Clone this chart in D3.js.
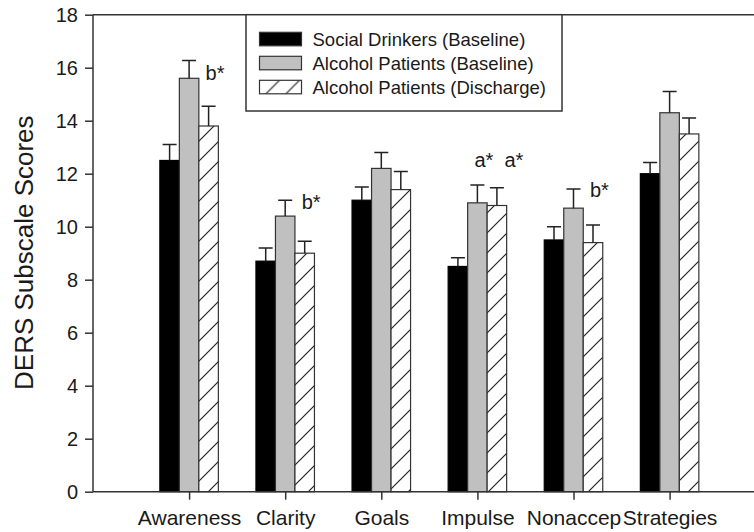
<!DOCTYPE html>
<html>
<head>
<meta charset="utf-8">
<script src="https://cdn.jsdelivr.net/npm/d3@7"></script>
<style>
    body { margin: 0; background: #fff; }
    text { font-family: "Liberation Sans", Arial, Helvetica, sans-serif; fill: #1a1a1a; }
</style>
</head>
<body>
<svg id="chart" width="754" height="532"></svg>
<script>
// Chart data
const categories = ["Awareness", "Clarity", "Goals", "Impulse", "Nonaccep", "Strategies"]
const seriesNames = ["Social Drinkers (Baseline)", "Alcohol Patients (Baseline)", "Alcohol Patients (Discharge)"]
const socialBaseline = [12.5, 8.7, 11.0, 8.5, 9.5, 12.0]
const socialBaselineErr = [0.6, 0.5, 0.5, 0.33, 0.5, 0.42]
const patientsBaseline = [15.6, 10.4, 12.2, 10.9, 10.7, 14.3]
const patientsBaselineErr = [0.67, 0.6, 0.6, 0.67, 0.72, 0.8]
const patientsDischarge = [13.8, 9.0, 11.4, 10.8, 9.4, 13.5]
const patientsDischargeErr = [0.75, 0.45, 0.68, 0.67, 0.66, 0.6]
const yTicks = [0, 2, 4, 6, 8, 10, 12, 14, 16, 18]
// significance marks: category, series index, text, height (score units)
const annotations = [
    { cat: "Awareness", series: 2, text: "b*", at: 15.55 },
    { cat: "Clarity", series: 2, text: "b*", at: 10.67 },
    { cat: "Impulse", series: 1, text: "a*\u00a0\u00a0a*", at: 12.25 },
    { cat: "Nonaccep", series: 2, text: "b*", at: 11.13 },
]

const seriesValues = [socialBaseline, patientsBaseline, patientsDischarge]
const seriesErrors = [socialBaselineErr, patientsBaselineErr, patientsDischargeErr]
const seriesFills = ["#000", "#c0c0c0", "url(#hatch)"]

const svg = d3.select("#chart")

// Hatch pattern for the discharge bars
const defs = svg.append("defs")
const hatch = defs.append("pattern")
    .attr("id", "hatch")
    .attr("patternUnits", "userSpaceOnUse")
    .attr("width", 20)
    .attr("height", 20)
hatch.append("rect").attr("width", 20).attr("height", 20).attr("fill", "#fff")
hatch.append("path")
    .attr("d", "M0,20 L20,0 M-10,10 L10,-10 M10,30 L30,10")
    .attr("stroke", "#222")
    .attr("stroke-width", 1.2)

// Scales
const x = d3.scaleLinear().domain([0, 7]).range([93, 765.7])
const y = d3.scaleLinear().domain([0, 18]).range([491.7, 14.7])
const sub = d3.scaleBand().domain([0, 1, 2]).range([-29.25, 29.25])
const cx = c => x(categories.indexOf(c) + 1)

// Bars
const bars = []
seriesValues.forEach((vals, s) => vals.forEach((v, i) => bars.push({ s, i, v, e: seriesErrors[s][i] })))

const barG = svg.append("g").attr("id", "bars")
barG.selectAll("rect")
    .data(bars)
    .enter()
    .append("rect")
    .attr("x", d => x(d.i + 1) + sub(d.s))
    .attr("y", d => y(d.v))
    .attr("width", sub.bandwidth())
    .attr("height", d => y(0) - y(d.v))
    .attr("fill", d => seriesFills[d.s])
    .attr("stroke", d => d.s == 0 ? "#000" : "#333")
    .attr("stroke-width", 1.2)

// Error bars (upper only)
const errG = svg.append("g").attr("id", "errors")
    .attr("stroke", "#222")
    .attr("stroke-width", 1.5)
errG.selectAll("path")
    .data(bars)
    .enter()
    .append("path")
    .attr("fill", "none")
    .attr("d", d => {
        const mx = x(d.i + 1) + sub(d.s) + sub.bandwidth() / 2
        const top = y(d.v + d.e)
        return `M${mx},${y(d.v)} V${top} M${mx - 7},${top} H${mx + 7}`
    })

// Significance labels
svg.append("g").selectAll("text")
    .data(annotations)
    .enter()
    .append("text")
    .attr("x", d => cx(d.cat) + sub(d.series) + sub.bandwidth() / 2 - 3)
    .attr("y", d => y(d.at))
    .attr("font-size", 20)
    .text(d => d.text)

// Axes
const yAxis = svg.append("g")
    .attr("transform", `translate(${x(0)},0)`)
    .call(d3.axisLeft(y).tickValues(yTicks).tickSize(8).tickPadding(7))
yAxis.select(".domain").attr("d", `M0,${y(18)} V${y(0)}`)

const xAxis = svg.append("g")
    .attr("transform", `translate(0,${y(0)})`)
    .call(d3.axisBottom(x).tickValues(d3.range(1, categories.length + 1))
        .tickFormat(i => categories[i - 1]).tickSize(8).tickPadding(10.5))
xAxis.select(".domain").attr("d", `M${x(0)},0 H754`)

svg.selectAll(".domain, .tick line").attr("stroke", "#333").attr("stroke-width", 1.5)
yAxis.selectAll(".tick text").attr("font-size", 20).attr("fill", "#1a1a1a")
xAxis.selectAll(".tick text").attr("font-size", 21).attr("fill", "#1a1a1a")

// Top frame line
svg.append("line")
    .attr("x1", x(0)).attr("x2", 754)
    .attr("y1", y(18)).attr("y2", y(18))
    .attr("stroke", "#333").attr("stroke-width", 1.5)

// Y axis title
svg.append("text")
    .attr("transform", `translate(33,${y(9) - 0.5}) rotate(-90)`)
    .attr("text-anchor", "middle")
    .attr("font-size", 26)
    .text("DERS Subscale Scores")

// Legend
const legend = svg.append("g").attr("id", "legend")
legend.append("rect")
    .attr("x", 246).attr("y", y(18))
    .attr("width", 316).attr("height", 111 - y(18))
    .attr("fill", "#fff").attr("stroke", "#333").attr("stroke-width", 1.5)
const rows = legend.selectAll("g.row")
    .data(seriesNames)
    .enter()
    .append("g")
    .attr("class", "row")
    .attr("transform", (d, i) => `translate(259.5,${32.3 + i * 24})`)
rows.append("rect")
    .attr("width", 42).attr("height", 13.5)
    .attr("fill", (d, i) => seriesFills[i])
    .attr("stroke", "#333").attr("stroke-width", 1.2)
rows.append("text")
    .attr("x", 53).attr("y", 13.3)
    .attr("font-size", 18.5)
    .text(d => d)
</script>
</body>
</html>
